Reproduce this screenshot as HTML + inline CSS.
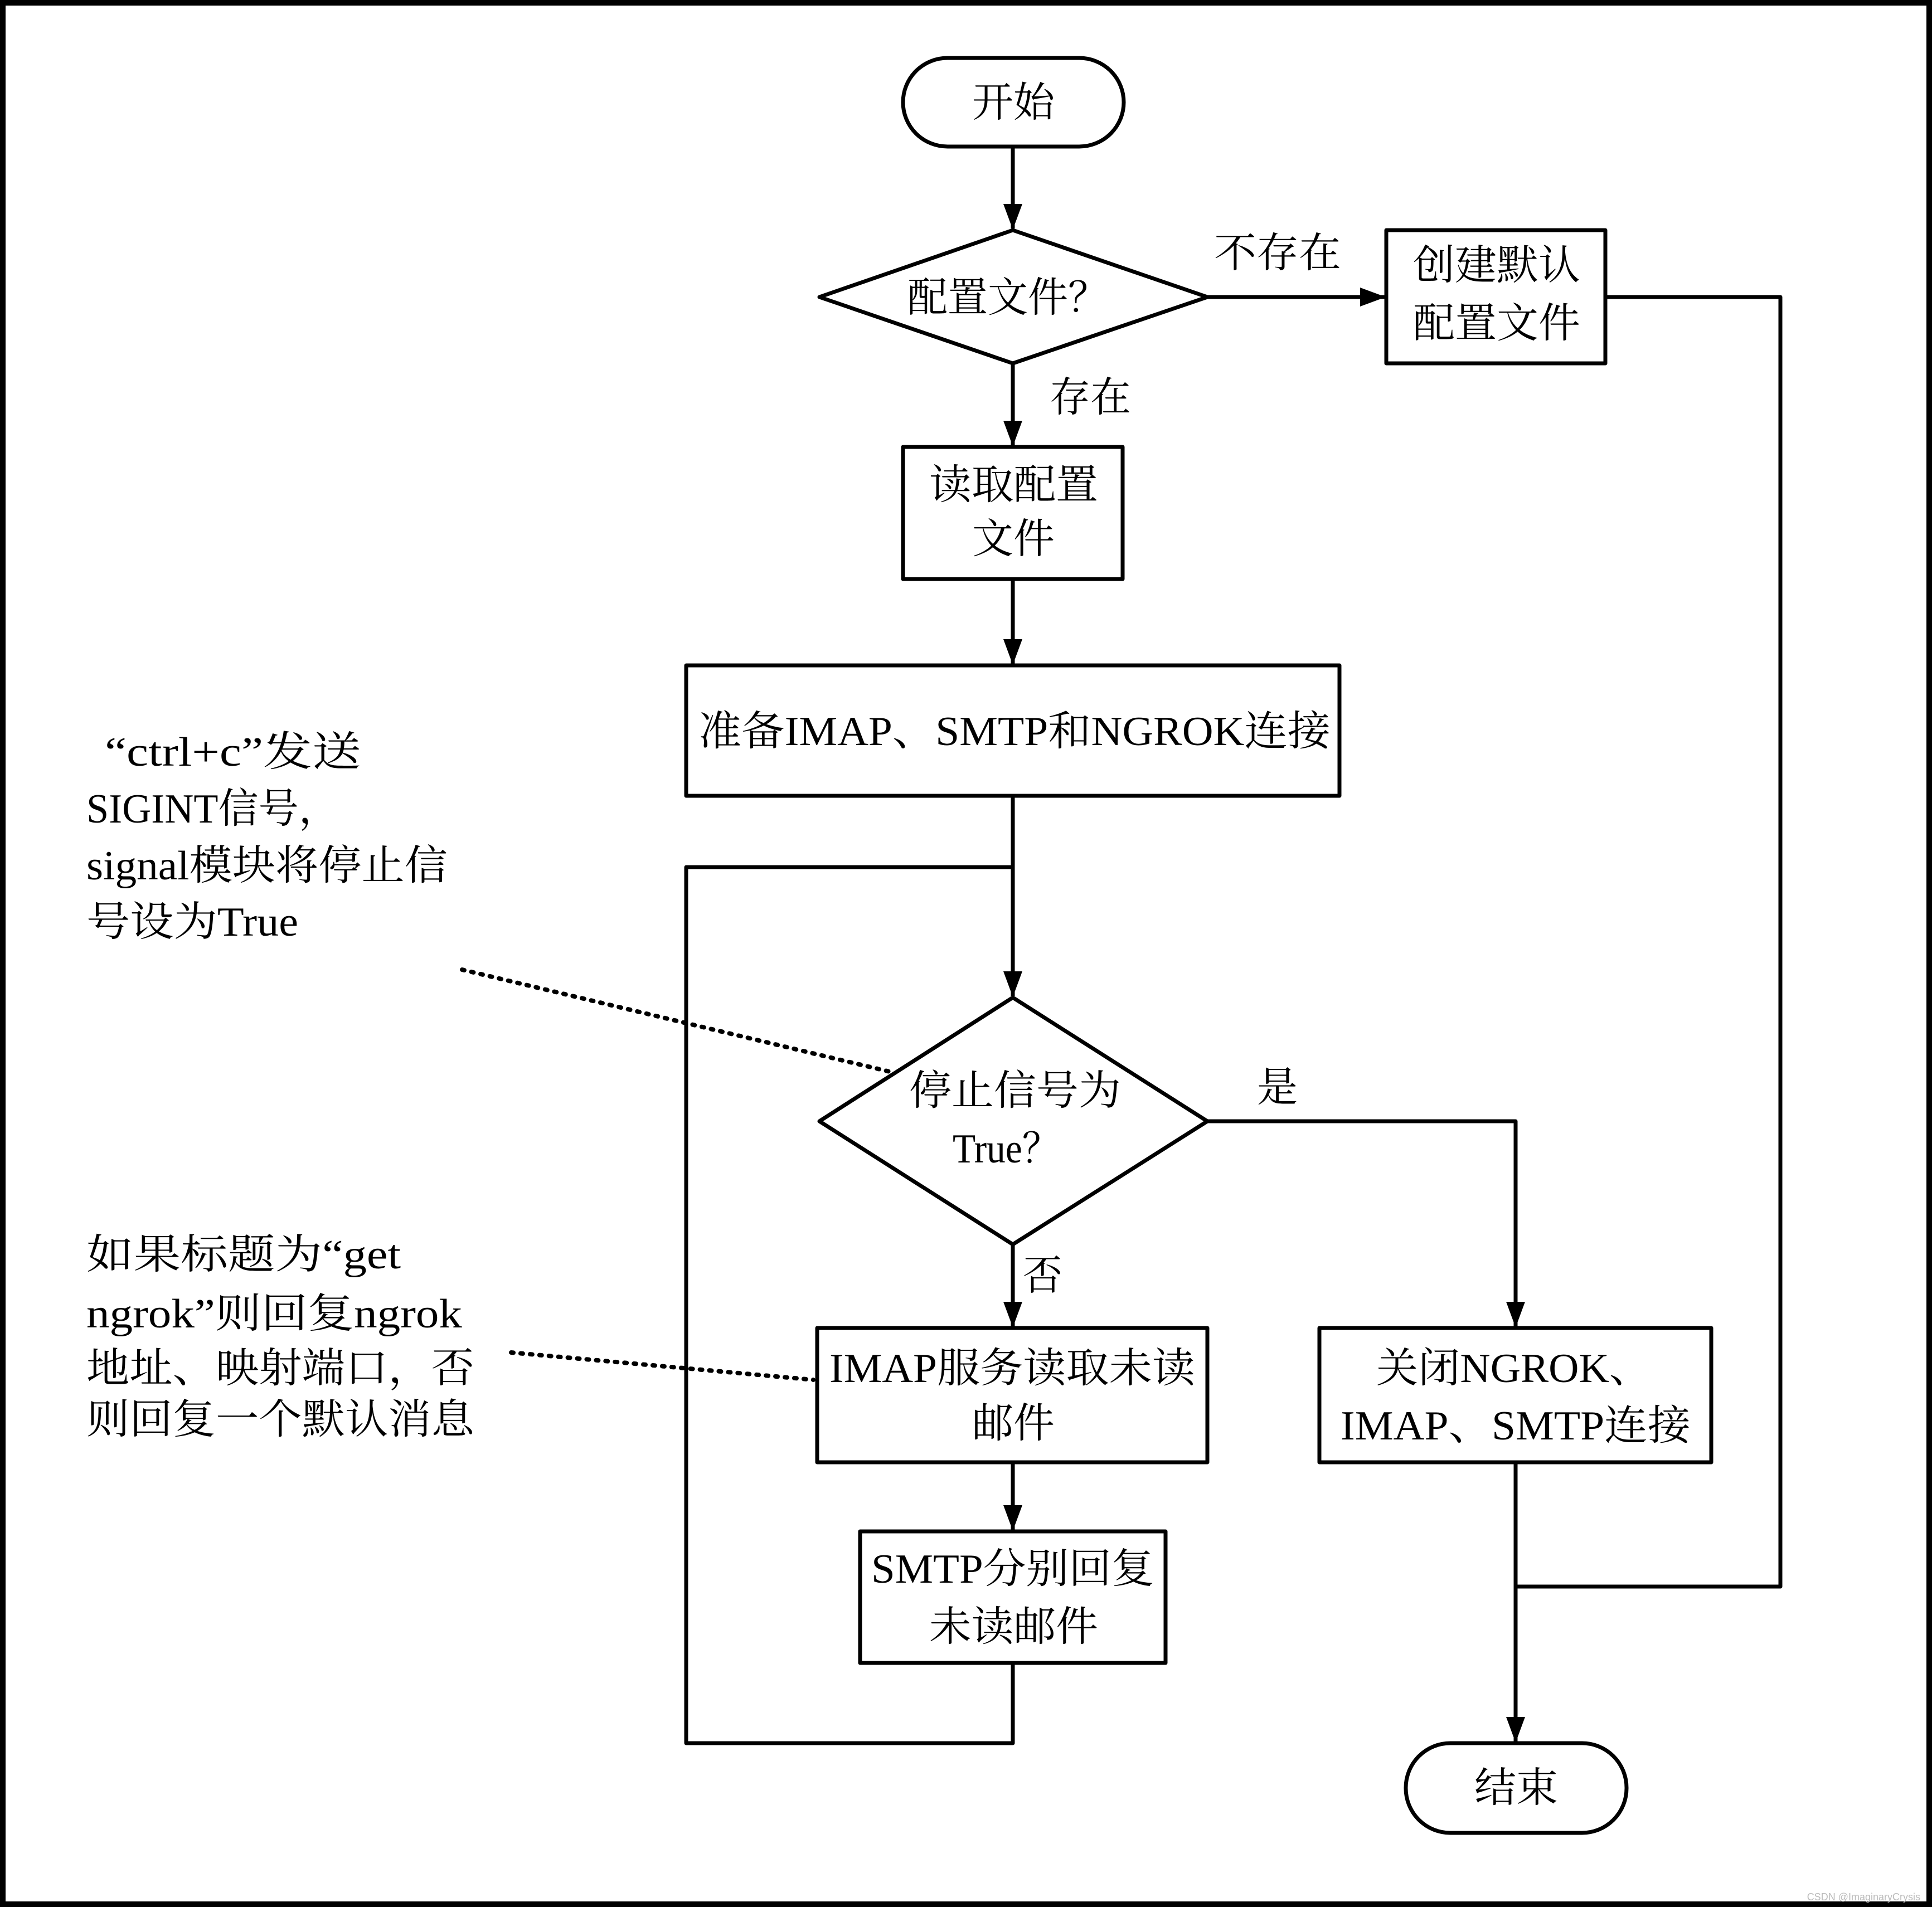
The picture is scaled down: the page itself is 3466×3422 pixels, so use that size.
<!DOCTYPE html>
<html><head><meta charset="utf-8"><style>html,body{margin:0;padding:0;background:#fff}svg{display:block}</style></head>
<body>
<svg width="3466" height="3422" viewBox="0 0 3466 3422" xmlns="http://www.w3.org/2000/svg">
<defs><marker id="ah" markerUnits="userSpaceOnUse" markerWidth="46" markerHeight="34" refX="44" refY="17" orient="auto" viewBox="0 0 46 34"><path d="M0,0 L46,17 L0,34 Z" fill="#000"/></marker></defs>
<rect x="5" y="5" width="3456" height="3412" fill="#fff" stroke="#000" stroke-width="10"/>
<g fill="none" stroke="#000" stroke-width="7" stroke-linejoin="round">
<rect x="1620" y="104" width="396" height="159" rx="80" fill="#fff"/>
<polygon points="1817,413 2166,533 1817,652 1470,533" fill="#fff"/>
<rect x="2487" y="413" width="393" height="239"/>
<rect x="1620" y="802" width="394" height="237"/>
<rect x="1231" y="1194" width="1172" height="234"/>
<polygon points="1817,1790 2166,2012 1817,2233 1470,2012" fill="#fff"/>
<rect x="1466" y="2383" width="700" height="241"/>
<rect x="1543" y="2748" width="548" height="236"/>
<rect x="2367" y="2383" width="703" height="241"/>
<rect x="2522" y="3128" width="396" height="161" rx="80"/>
<path d="M1817,263 V410" marker-end="url(#ah)"/>
<path d="M2166,533 H2484" marker-end="url(#ah)"/>
<path d="M1817,652 V799" marker-end="url(#ah)"/>
<path d="M1817,1039 V1191" marker-end="url(#ah)"/>
<path d="M1817,1428 V1787" marker-end="url(#ah)"/>
<path d="M1817,1556 H1231 V3128 H1817 V2984"/>
<path d="M1817,2233 V2380" marker-end="url(#ah)"/>
<path d="M1817,2624 V2745" marker-end="url(#ah)"/>
<path d="M2166,2012 H2719 V2380" marker-end="url(#ah)"/>
<path d="M2880,533 H3194 V2847 H2719"/>
<path d="M2719,2624 V3125" marker-end="url(#ah)"/>
<path d="M829,1740 L1596,1923" stroke-dasharray="4,13" stroke-linecap="round" stroke-width="8"/>
<path d="M917,2427 L1459,2476" stroke-dasharray="4,13" stroke-linecap="round" stroke-width="8"/>
</g>
<g font-family="'Liberation Serif','Noto Serif CJK SC',serif" font-size="74" fill="#000">
<text x="1744" y="209" textLength="148" lengthAdjust="spacingAndGlyphs">开始</text>
<text x="1628" y="559" textLength="360" lengthAdjust="spacingAndGlyphs">配置文件？</text>
<text x="2178" y="479" textLength="228" lengthAdjust="spacingAndGlyphs">不存在</text>
<text x="1883" y="738" textLength="146" lengthAdjust="spacingAndGlyphs">存在</text>
<text x="2535" y="501" textLength="300" lengthAdjust="spacingAndGlyphs">创建默认</text>
<text x="2535" y="605" textLength="300" lengthAdjust="spacingAndGlyphs">配置文件</text>
<text x="1667" y="895" textLength="303" lengthAdjust="spacingAndGlyphs">读取配置</text>
<text x="1744" y="992" textLength="148" lengthAdjust="spacingAndGlyphs">文件</text>
<text x="1253" y="1337" textLength="1134" lengthAdjust="spacingAndGlyphs">准备IMAP、SMTP和NGROK连接</text>
<text x="1631" y="1982" textLength="380" lengthAdjust="spacingAndGlyphs">停止信号为</text>
<text x="1709" y="2086" textLength="192" lengthAdjust="spacingAndGlyphs">True？</text>
<text x="2255" y="1976" textLength="73" lengthAdjust="spacingAndGlyphs">是</text>
<text x="1835" y="2314" textLength="71" lengthAdjust="spacingAndGlyphs">否</text>
<text x="1488" y="2480" textLength="656" lengthAdjust="spacingAndGlyphs">IMAP服务读取未读</text>
<text x="1744" y="2579" textLength="148" lengthAdjust="spacingAndGlyphs">邮件</text>
<text x="1563" y="2840" textLength="508" lengthAdjust="spacingAndGlyphs">SMTP分别回复</text>
<text x="1667" y="2944" textLength="303" lengthAdjust="spacingAndGlyphs">未读邮件</text>
<text x="2469" y="2480" textLength="493" lengthAdjust="spacingAndGlyphs">关闭NGROK、</text>
<text x="2405" y="2583" textLength="628" lengthAdjust="spacingAndGlyphs">IMAP、SMTP连接</text>
<text x="2645" y="3233" textLength="150" lengthAdjust="spacingAndGlyphs">结束</text>
<text x="188" y="1374" textLength="460" lengthAdjust="spacingAndGlyphs">“ctrl+c”发送</text>
<text x="155" y="1476" textLength="453" lengthAdjust="spacingAndGlyphs">SIGINT信号，</text>
<text x="155" y="1578" textLength="648" lengthAdjust="spacingAndGlyphs">signal模块将停止信</text>
<text x="155" y="1679" textLength="380" lengthAdjust="spacingAndGlyphs">号设为True</text>
<text x="155" y="2276" textLength="564" lengthAdjust="spacingAndGlyphs">如果标题为“get</text>
<text x="155" y="2382" textLength="674" lengthAdjust="spacingAndGlyphs">ngrok”则回复ngrok</text>
<text x="155" y="2480" textLength="696" lengthAdjust="spacingAndGlyphs">地址、映射端口，否</text>
<text x="155" y="2572" textLength="696" lengthAdjust="spacingAndGlyphs">则回复一个默认消息</text>
</g>
<text x="3445" y="3410" text-anchor="end" font-family="'Liberation Sans',sans-serif" font-size="18" fill="#bbb">CSDN @ImaginaryCrysis</text>
</svg>
</body></html>
